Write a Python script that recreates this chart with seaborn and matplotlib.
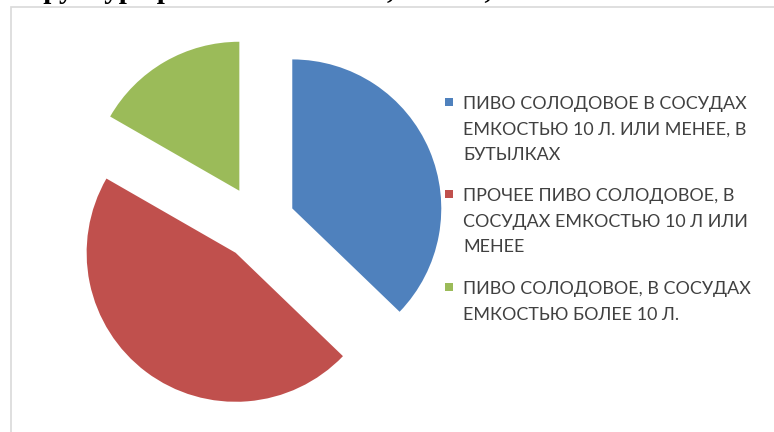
import numpy as np
import matplotlib
matplotlib.use("Agg")
import matplotlib.pyplot as plt
import matplotlib.patches as mpatches
from matplotlib import font_manager
import seaborn as sns

# data
labels = [
    "ПИВО СОЛОДОВОЕ В СОСУДАХ\nЕМКОСТЬЮ 10 Л. ИЛИ МЕНЕЕ, В\nБУТЫЛКАХ",
    "ПРОЧЕЕ ПИВО СОЛОДОВОЕ, В\nСОСУДАХ ЕМКОСТЬЮ 10 Л ИЛИ\nМЕНЕЕ",
    "ПИВО СОЛОДОВОЕ, В СОСУДАХ\nЕМКОСТЬЮ БОЛЕЕ 10 Л.",
]
shares = [37.2, 46.1, 16.7]
colors = ["#4F81BD", "#C0504D", "#9BBB59"]
title = "Структура рынка пива в РФ, 2016 г., %"

sns.set_style("white")
plt.rcParams["font.family"] = ["Lato", "DejaVu Sans"]

names = {f.name for f in font_manager.fontManager.ttflist}
print("narrow" , "Liberation Sans Narrow" in names)
leg_font = "Liberation Sans Narrow" if "Liberation Sans Narrow" in names else "Lato"

W, H = 774, 432
fig = plt.figure(figsize=(W / 100, H / 100), dpi=100)
fig.patch.set_facecolor("white")

# chart frame (light grey, runs off right/bottom)
frame = mpatches.Rectangle((11 / W, -0.05), 1.0, 1 - 7 / H + 0.05,
                           transform=fig.transFigure, fill=False,
                           edgecolor="#D9D9D9", linewidth=1.2)
fig.patches.append(frame)

# clipped title at the very top
fig.text(8 / W, 1 + 1.5 / H, title, family="Liberation Serif",
         fontweight="bold", fontsize=21, color="black", va="baseline", ha="left")

# pie axes: radius 1 -> 149 px, centre at (258, 223)
lim = 1.4
side = 149 * 2 * lim
cx, cy = 258, H - 223
ax = fig.add_axes([(cx - side / 2) / W, (cy - side / 2) / H, side / W, side / H])
ax.pie(shares, colors=colors, startangle=90, counterclock=False,
       explode=[0.25] * len(shares), radius=1,
       wedgeprops=dict(linewidth=0, antialiased=True))
ax.set_xlim(-lim, lim)
ax.set_ylim(-lim, lim)
ax.set_aspect("equal")
ax.axis("off")

# legend, drawn line by line to match the spacing
base = 109
pitch = 25.5
gap = 16
target_w = 285  # width of the first legend line in the reference, px
fs = 14.5
probe = fig.text(0, 0, labels[0].split("\n")[0], family=leg_font, fontsize=fs)
r = fig.canvas.get_renderer()
fs = fs * target_w / probe.get_window_extent(r).width
probe.remove()

y = base
for lab, col in zip(labels, colors):
    lines = lab.split("\n")
    sq = mpatches.Rectangle((445 / W, 1 - (y - 3) / H), 8 / W, 8 / H,
                            transform=fig.transFigure, facecolor=col,
                            edgecolor="none")
    fig.patches.append(sq)
    for i, ln in enumerate(lines):
        fig.text(463 / W, 1 - (y + i * pitch) / H, ln, family=leg_font,
                 fontsize=fs, color="#404040", va="baseline", ha="left")
    y += len(lines) * pitch + gap

fig.savefig("out.png", dpi=100, facecolor="white")
